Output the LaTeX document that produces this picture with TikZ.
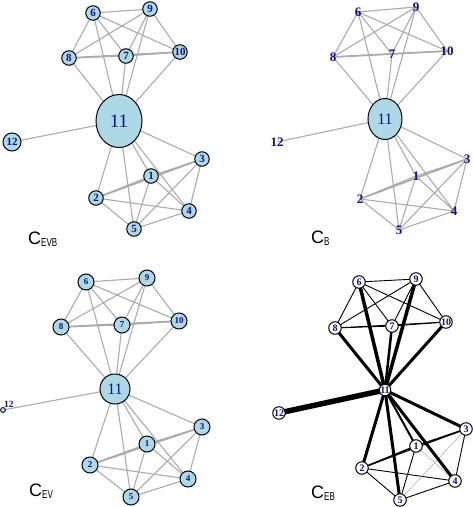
\documentclass[tikz,border=0pt]{standalone}
\usepackage{fontspec}
\setmainfont{Liberation Serif}
\newfontfamily\capfont{Liberation Sans}
\usetikzlibrary{backgrounds,shapes.geometric}
\definecolor{nfill}{HTML}{ADD8E6}
\definecolor{lblue}{HTML}{10108A}
\definecolor{egray}{HTML}{ABABAB}
\begin{document}
\begin{tikzpicture}[x=1pt,y=-1pt,
  gedge/.style={draw=egray,line width=1.1pt},
  vA/.style={circle,draw=black,line width=1pt,fill=nfill,inner sep=0pt,minimum size=14.5pt,text=lblue,font=\bfseries\fontsize{11}{11}\selectfont},
  vB/.style={inner sep=0pt,text=lblue,font=\bfseries\fontsize{13}{13}\selectfont},
  vC/.style={circle,draw=black,line width=1pt,fill=nfill,inner sep=0pt,minimum size=16pt,text=lblue,font=\bfseries\fontsize{9}{9}\selectfont},
  vD/.style={circle,draw=black,line width=1pt,fill=white,inner sep=0pt,minimum size=12.5pt,text=lblue,font=\bfseries\fontsize{10}{10}\selectfont},
  captxt/.style={anchor=base west,inner sep=0pt,font=\capfont\fontsize{18}{18}\selectfont}
]
\useasboundingbox (0,0) rectangle (473,507);

% ---------------- Panel C_EVB ----------------
\node[vA] (A1) at (151,176) {1};
\node[vA] (A2) at (96,198) {2};
\node[vA] (A3) at (202,159) {3};
\node[vA] (A4) at (189,211) {4};
\node[vA] (A5) at (134,229) {5};
\node[vA] (A6) at (93,13) {6};
\node[vA] (A7) at (126,56) {7};
\node[vA] (A8) at (69,58) {8};
\node[vA] (A9) at (150,9) {9};
\node[vA] (A10) at (180,52) {10};
\node[vA,ellipse,minimum width=46pt,minimum height=53pt,font=\mdseries\fontsize{19}{19}\selectfont] (A11) at (119,121) {11};
\node[vA,minimum size=18pt] (A12) at (12,142) {12};

% ---------------- Panel C_B ----------------
\node[vB] (B1) at (416,176) {1};
\node[vB] (B2) at (360,199) {2};
\node[vB] (B3) at (467,159) {3};
\node[vB] (B4) at (454,211) {4};
\node[vB] (B5) at (399,230) {5};
\node[vB] (B6) at (358,12) {6};
\node[vB] (B7) at (392,54) {7};
\node[vB] (B8) at (333,57) {8};
\node[vB] (B9) at (416,7) {9};
\node[vB] (B10) at (447,51) {10};
\node[vB,ellipse,draw=black,line width=1pt,fill=nfill,minimum width=34pt,minimum height=41pt,font=\mdseries\fontsize{16}{16}\selectfont] (B11) at (385,119) {11};
\node[vB] (B12) at (277,142) {12};

% ---------------- Panel C_EV ----------------
\node[vC] (C1) at (147,444) {1};
\node[vC] (C2) at (90,465) {2};
\node[vC] (C3) at (202,427) {3};
\node[vC] (C4) at (188,479) {4};
\node[vC] (C5) at (131,497) {5};
\node[vC] (C6) at (86,282) {6};
\node[vC] (C7) at (122,325) {7};
\node[vC] (C8) at (61,327) {8};
\node[vC] (C9) at (147,278) {9};
\node[vC] (C10) at (179,321) {10};
\node[vC,minimum size=30pt,font=\mdseries\fontsize{16}{16}\selectfont] (C11) at (115,389) {11};
\node[vC,minimum size=5pt,line width=0.8pt] (C12) at (3,410) {};
\node[text=lblue,font=\bfseries\fontsize{9.5}{9.5}\selectfont,inner sep=0pt] (C12lab) at (9,404) {12};

% ---------------- Panel C_EB ----------------
\node[vD] (D1) at (416,446) {1};
\node[vD] (D2) at (362,468) {2};
\node[vD] (D3) at (466,429) {3};
\node[vD] (D4) at (455,481) {4};
\node[vD] (D5) at (400,500) {5};
\node[vD] (D6) at (359,282) {6};
\node[vD] (D7) at (392,326) {7};
\node[vD] (D8) at (335,328) {8};
\node[vD] (D9) at (416,279) {9};
\node[vD] (D10) at (446,322) {10};
\node[vD,minimum size=11pt] (D11) at (385,390) {11};
\node[vD] (D12) at (279,413) {12};

% ---------------- Edges ----------------
\begin{scope}[on background layer]
  \foreach \p in {A,B,C}{
    \foreach \a/\b/\w in {6/7/1.1,6/8/1.1,6/9/1.1,6/10/1.1,7/8/1.1,7/9/1.1,7/10/1.1,8/9/1.1,8/10/1.7,9/10/1.1,
                        1/2/1.1,1/3/1.1,1/4/1.1,1/5/1.1,2/3/1.7,2/4/1.1,2/5/1.1,3/4/1.1,3/5/1.1,4/5/1.1,
                        11/1/1.1,11/2/1.1,11/3/1.1,11/4/1.1,11/5/1.1,11/6/1.1,11/7/1.1,11/8/1.1,11/9/1.1,11/10/1.1,11/12/1.1}
      \draw[gedge,line width=\w pt] (\p\a.center) -- (\p\b.center);
  }
  \foreach \a/\b/\w/\c in {6/7/0.9/black,6/8/0.9/black,6/9/0.9/black,6/10/0.9/black,7/8/0.9/black,7/9/0.9/black,7/10/0.9/black,8/9/0.9/black,8/10/0.9/black,9/10/0.9/black,
                          1/2/1.6/black,1/3/1.6/black,1/4/0.5/egray,1/5/0.9/black,2/3/0.9/black,2/4/0.9/black,2/5/0.9/black,3/4/0.9/black,3/5/0.5/egray,4/5/0.9/black,
                          11/1/2/black,11/2/3/black,11/3/3/black,11/4/3/black,11/5/3/black,11/6/3.5/black,11/7/2.5/black,11/8/3/black,11/9/3.5/black,11/10/3/black,11/12/5.5/black}
    \draw[draw=\c,line width=\w pt] (D\a.center) -- (D\b.center);
\end{scope}

% ---------------- Captions ----------------
\node[captxt] (capA) at (28,244) {C\raisebox{-2.5pt}{\fontsize{11.5}{11.5}\selectfont\scalebox{0.7}[1]{EVB}}};
\node[captxt] (capB) at (311,243) {C\raisebox{-2.5pt}{\fontsize{11.5}{11.5}\selectfont\scalebox{0.7}[1]{B}}};
\node[captxt] (capC) at (29,496) {C\raisebox{-2.5pt}{\fontsize{11.5}{11.5}\selectfont\scalebox{0.7}[1]{EV}}};
\node[captxt] (capD) at (311,498) {C\raisebox{-2.5pt}{\fontsize{11.5}{11.5}\selectfont\scalebox{0.7}[1]{EB}}};
\end{tikzpicture}
\end{document}
